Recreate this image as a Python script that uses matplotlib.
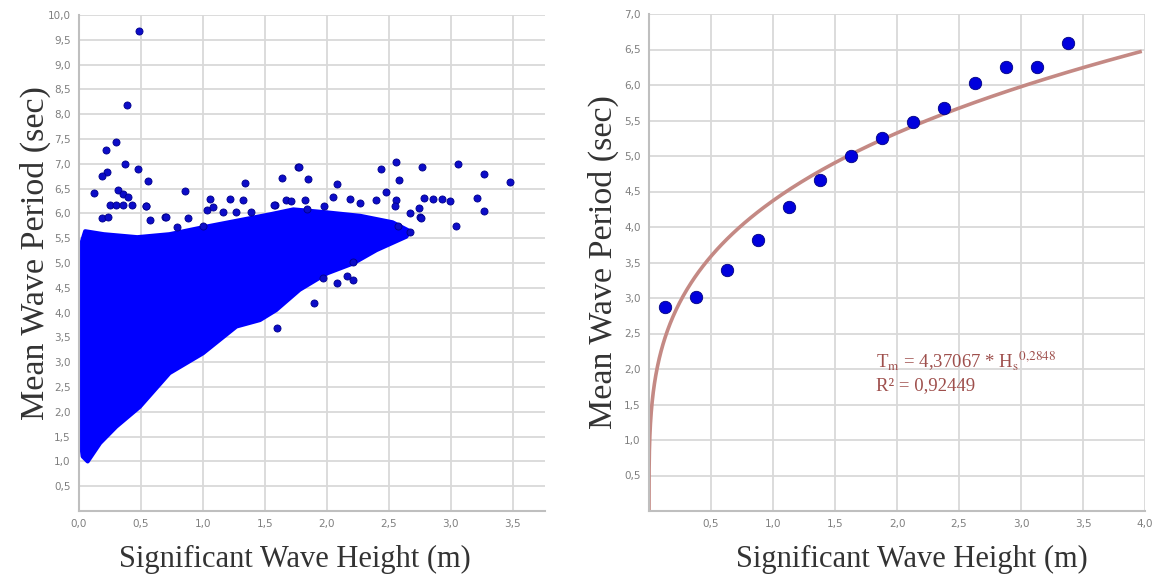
import numpy as np
import matplotlib
matplotlib.use("Agg")
import matplotlib.pyplot as plt

plt.rcParams['mathtext.fontset'] = 'stix'

# ---- left: Hs vs Tm scatter (dense cloud outline + scattered points)
cloud_top_x = [0.02, 0.05, 0.20, 0.47, 0.73, 1.00, 1.27, 1.54, 1.73, 2.00, 2.27, 2.53, 2.67]
cloud_top_y = [5.40, 5.64, 5.58, 5.52, 5.58, 5.72, 5.85, 5.98, 6.08, 6.02, 5.95, 5.82, 5.64]
cloud_bot_x = [2.64, 2.40, 2.21, 2.00, 1.78, 1.59, 1.46, 1.27, 1.00, 0.73, 0.49, 0.30, 0.17, 0.07, 0.03, 0.02]
cloud_bot_y = [5.53, 5.26, 4.99, 4.79, 4.46, 4.05, 3.85, 3.72, 3.18, 2.78, 2.10, 1.70, 1.37, 1.00, 1.10, 1.30]

pts_x = [0.486, 0.385, 0.296, 0.218, 0.368, 0.476, 0.228, 0.183, 0.556, 0.121, 0.857, 1.339,
         1.635, 1.770, 0.538, 1.056, 1.220, 1.325, 0.317, 0.357, 0.398, 0.250, 0.300, 0.357,
         0.425, 0.540, 0.183, 0.236, 0.573, 0.694, 1.030, 1.080, 1.160, 1.270, 1.390, 1.580,
         1.670, 0.880, 0.790, 1.000, 0.700, 1.777, 1.849, 2.078, 2.440, 2.556, 2.769, 3.059,
         3.270, 3.480, 2.578, 2.480, 2.780, 2.860, 2.930, 2.990, 3.215, 3.270, 3.040, 2.395,
         2.185, 2.046, 1.573, 2.670, 2.750, 2.670, 1.710, 1.820, 1.840, 2.270, 1.980, 2.560,
         2.550, 2.740, 2.760, 2.575, 1.594, 1.900, 2.210, 2.160, 2.080, 1.970, 2.210]
pts_y = [9.68, 8.19, 7.43, 7.28, 6.99, 6.89, 6.84, 6.76, 6.65, 6.42, 6.45, 6.62,
         6.71, 6.93, 6.14, 6.30, 6.30, 6.27, 6.47, 6.40, 6.34, 6.17, 6.17, 6.17,
         6.17, 6.15, 5.91, 5.93, 5.87, 5.93, 6.07, 6.13, 6.03, 6.03, 6.03, 6.17,
         6.27, 5.90, 5.73, 5.75, 5.92, 6.94, 6.69, 6.59, 6.90, 7.04, 6.94, 6.99,
         6.79, 6.64, 6.67, 6.44, 6.32, 6.30, 6.29, 6.25, 6.32, 6.05, 5.75, 6.28,
         6.30, 6.34, 6.17, 6.00, 5.93, 5.62, 6.26, 6.27, 6.08, 6.20, 6.14, 6.28,
         6.15, 6.10, 5.90, 5.75, 3.68, 4.19, 4.66, 4.74, 4.59, 4.69, 5.03]

left_xticks = [0.0, 0.5, 1.0, 1.5, 2.0, 2.5, 3.0, 3.5]
left_yticks = [0.5, 1.0, 1.5, 2.0, 2.5, 3.0, 3.5, 4.0, 4.5, 5.0, 5.5, 6.0, 6.5, 7.0,
               7.5, 8.0, 8.5, 9.0, 9.5, 10.0]

# ---- right: binned means + power fit
bin_hs = [0.125, 0.375, 0.625, 0.875, 1.125, 1.375, 1.625, 1.875, 2.125, 2.375,
          2.625, 2.875, 3.125, 3.375]
bin_tm = [2.87, 3.01, 3.39, 3.82, 4.28, 4.66, 5.00, 5.25, 5.48, 5.68, 6.03, 6.25,
          6.25, 6.59]
fit_a = 4.37067
fit_b = 0.2848
right_xticks = [0.5, 1.0, 1.5, 2.0, 2.5, 3.0, 3.5, 4.0]
right_yticks = [0.5, 1.0, 1.5, 2.0, 2.5, 3.0, 3.5, 4.0, 4.5, 5.0, 5.5, 6.0, 6.5, 7.0]


def lbl(v):
    return ("%.1f" % v).replace(".", ",")


def style(ax, xt, yt):
    ax.set_xticks(xt)
    ax.set_xticklabels([lbl(v) for v in xt])
    ax.set_yticks(yt)
    ax.set_yticklabels([lbl(v) for v in yt])
    ax.grid(True, color="#d9d9d9", lw=1.3)
    ax.set_axisbelow(True)
    for s in ["top", "right"]:
        ax.spines[s].set_visible(False)
    for s in ["left", "bottom"]:
        ax.spines[s].set_color("#bfbfbf")
        ax.spines[s].set_linewidth(1.5)
    ax.tick_params(length=0, labelsize=7.5, labelcolor="#7f7f7f", pad=6)


lab = dict(family="Liberation Serif", color="#333333")

fig = plt.figure(figsize=(11.61, 5.86), dpi=100)

ax1 = fig.add_axes([79 / 1161, 75 / 586, 466 / 1161, 496 / 586])
poly_x = cloud_top_x + cloud_bot_x
poly_y = cloud_top_y + cloud_bot_y
ax1.fill(poly_x, poly_y, color="#0000ff", ec="#0000ff", lw=3, joinstyle="round", zorder=2)
ax1.scatter(pts_x, pts_y, s=26, c="#0c0cc8", edgecolors="#00008b", linewidths=0.6, zorder=3)
ax1.set_xlim(0, 3.76)
ax1.set_ylim(0, 10)
style(ax1, left_xticks, left_yticks)
ax1.set_xlabel("Significant Wave Height (m)", fontsize=22, **lab)
ax1.set_ylabel("Mean Wave Period (sec)", fontsize=24.5, **lab)
ax1.xaxis.set_label_coords(0.464, -0.068)
ax1.yaxis.set_label_coords(-0.06, 0.52)

ax2 = fig.add_axes([649 / 1161, 75 / 586, 496 / 1161, 497 / 586])
h = 3.96 * np.linspace(0, 1, 400) ** 3
ax2.plot(h, fit_a * h ** fit_b, color="#c48984", lw=2.6, zorder=2)
ax2.scatter(bin_hs, bin_tm, s=80, c="#0000dd", edgecolors="#000080", linewidths=0.6, zorder=3)
ax2.set_xlim(0, 4)
ax2.set_ylim(0, 7)
style(ax2, right_xticks, right_yticks)
ax2.set_xlabel("Significant Wave Height (m)", fontsize=22, **lab)
ax2.set_ylabel("Mean Wave Period (sec)", fontsize=24.5, **lab)
ax2.xaxis.set_label_coords(0.53, -0.068)
ax2.yaxis.set_label_coords(-0.06, 0.50)
ax2.text(1.83, 2.11, r"T$_\mathrm{m}$ = 4,37067 * H$_\mathrm{s}$$^{0{,}2848}$",
         family="Liberation Serif", fontsize=13.5, color="#9e4f4c", va="center")
ax2.text(1.83, 1.77, "R² = 0,92449", family="Liberation Serif", fontsize=13.5,
         color="#9e4f4c", va="center")

fig.savefig("out.png", dpi=100)
